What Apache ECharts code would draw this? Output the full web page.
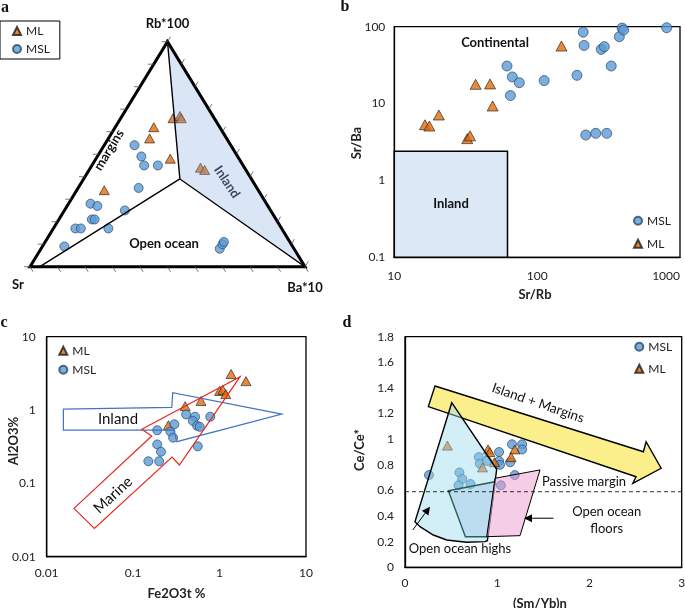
<!DOCTYPE html>
<html><head><meta charset="utf-8">
<script src="https://cdn.jsdelivr.net/npm/echarts@6/dist/echarts.min.js"></script>
<style>html,body{margin:0;padding:0;background:#fff}#c{width:685px;height:608px}</style>
</head><body><div id="c"></div>
<script>
// ---------- Panel a: ternary compositions (fractions of Sr, Rb*100, Ba*10)
const aML_Sr  = [0.15,0.12,0.12,0.24,0.28,0.25,0.16,0.15,0.56];
const aML_Rb  = [0.66,0.67,0.66,0.62,0.57,0.48,0.44,0.43,0.34];
const aML_Ba  = [0.19,0.21,0.22,0.14,0.15,0.27,0.40,0.42,0.10];
const aMSL_Sr = [0.35,0.35,0.36,0.31,0.43,0.64,0.62,0.67,0.66,0.53,0.75,0.73,0.63,0.83,0.27,0.25,0.24];
const aMSL_Rb = [0.54,0.49,0.45,0.45,0.35,0.28,0.27,0.21,0.21,0.25,0.17,0.17,0.17,0.09,0.08,0.10,0.11];
const aMSL_Ba = [0.11,0.16,0.19,0.24,0.22,0.08,0.11,0.12,0.13,0.22,0.08,0.10,0.20,0.08,0.65,0.65,0.65];
// field boundaries (Sr, Rb, Ba)
const aJunction = [0.26,0.39,0.35];
const aBasePoint = [0.964,0,0.036];
const aVertSr = [1,0,0], aVertRb = [0,1,0], aVertBa = [0,0,1];

// ---------- Panel b: Sr/Rb vs Sr/Ba
const bML_x  = [16.4,17.6,20.5,32.4,33.9,37.1,46.8,48.8,148];
const bML_y  = [5.3,5.1,7.1,3.5,3.8,17.8,18,9.3,56];
const bMSL_x = [61.5,67,75,65,112,190,210,213,219,257,307,281,295,330,376,393,403,807];
const bMSL_y = [30.8,22.2,18.7,12.7,19.9,23.3,85,57,3.9,4.1,4.1,50.7,55,30.8,74,96,90.5,97];
const bInland = [[10,0.1],[62,0.1],[62,2.4],[10,2.4]];

// ---------- Panel c: Fe2O3t vs Al2O3
const cML_x  = [1.36,2.02,1.0,1.09,1.18,0.61,0.40,0.256];
const cML_y  = [3.1,2.48,1.82,1.88,1.65,1.33,1.13,0.62];
const cMSL_x = [0.78,0.41,0.52,0.49,0.55,0.59,0.30,0.19,0.27,0.29,0.19,0.56,0.21,0.15,0.20];
const cMSL_y = [0.81,0.87,0.81,0.71,0.61,0.59,0.64,0.53,0.51,0.42,0.34,0.32,0.27,0.20,0.20];
const cInland = [[0.0156,1.03],[0.280,1.09],[0.287,1.72],[5.25,0.88],[0.32,0.37],[0.297,0.533],[0.0156,0.533]];
const cMarine = [[0.0207,0.0456],[0.164,0.442],[0.126,0.546],[1.73,2.85],[0.343,0.178],[0.282,0.229],[0.0356,0.0243]];

// ---------- Panel d: (Sm/Yb)n vs Ce/Ce*
const dMSL_x = [0.26,0.59,0.62,0.58,0.71,0.80,0.81,0.89,1.02,1.02,1.03,1.16,1.27,1.27,1.14,1.19,1.04];
const dMSL_y = [0.72,0.74,0.69,0.64,0.65,0.86,0.81,0.83,0.90,0.83,0.80,0.96,0.96,0.92,0.82,0.72,0.64];
const dML_x  = [0.46,0.90,0.92,0.84,0.97,1.19,1.15];
const dML_y  = [0.95,0.92,0.90,0.78,0.82,0.92,0.86];
const dIslandArrow = [[0.325,1.415],[2.585,0.902],[2.614,0.980],[2.777,0.773],[2.470,0.656],[2.505,0.707],[0.253,1.254]];
const dHighs = [[0.507,1.285],[0.994,0.765],[0.893,0.208],[0.868,0.200],[0.669,0.195],[0.452,0.213],[0.307,0.252],[0.163,0.317],[0.108,0.356]];
const dTeal = [[0.470,0.598],[0.976,0.668],[0.893,0.239],[0.655,0.239]];
const dPink = [[0.976,0.695],[1.464,0.760],[1.247,0.247],[0.886,0.239]];
const dCeLimit = 0.59;
const dHighsArrow = [[0.084,0.291],[0.271,0.473]];
const dFloorsArrow = [[1.61,0.383],[1.29,0.383]];

// ---------- helpers
const FONT = 'Lato, "Open Sans", sans-serif';
const ML_STYLE = {color:'#E46C0A', borderColor:'#1a1a1a', borderWidth:0.8};
const MSL_STYLE = {color:'#5B9BD5', borderColor:'#2c4a6b', borderWidth:0.9};
const zip = (xs, ys) => xs.map((x,i)=>[x, ys[i]]);
function tern(sr, rb, ba){ const s = sr+rb+ba; return [(ba + rb/2)/s, rb/s]; }
const ternArr = (S,R,B) => S.map((s,i)=>tern(s,R[i],B[i]));

function poly(grid, pts, style, z, closed=true){
  return {type:'custom', xAxisIndex:grid, yAxisIndex:grid, z:z, silent:true,
    data:[[pts[0][0], pts[0][1]]],
    renderItem:(p, api)=>({type: closed?'polygon':'polyline', shape:{points: pts.map(q=>api.coord(q))}, style: style})};
}
function arrowSeries(grid, seg, z){
  return {type:'custom', xAxisIndex:grid, yAxisIndex:grid, z:z, silent:true, data:[[seg[1][0], seg[1][1]]],
    renderItem:(p, api)=>{
      const p0 = api.coord(seg[0]), p1 = api.coord(seg[1]);
      const dx=p1[0]-p0[0], dy=p1[1]-p0[1], L=Math.hypot(dx,dy), ux=dx/L, uy=dy/L;
      const hl=8, hw=4, bx=p1[0]-ux*hl, by=p1[1]-uy*hl;
      return {type:'group', children:[
        {type:'line', shape:{x1:p0[0],y1:p0[1],x2:bx,y2:by}, style:{stroke:'#000', lineWidth:1}},
        {type:'polygon', shape:{points:[p1,[bx-uy*hw,by+ux*hw],[bx+uy*hw,by-ux*hw]]}, style:{fill:'#000'}}
      ]};
    }};
}

const axisCommon = {
  axisLine:{show:true, onZero:false, lineStyle:{color:'#000', width:1.3}},
  axisTick:{show:false}, splitLine:{show:false}
};
const lbl = (margin, extra) => Object.assign({color:'#222', fontSize:12, fontFamily:FONT, margin:margin,
  formatter: v => String(Math.round(v*1000)/1000)}, extra||{});

// ternary ticks (structural, every 10 %)
const ternTicks = {type:'custom', xAxisIndex:0, yAxisIndex:0, z:6, silent:true, data:[[0,0]],
  renderItem:(p, api)=>{
    const A = api.coord(tern(...aVertSr)), B = api.coord(tern(...aVertBa)), T = api.coord(tern(...aVertRb));
    const norm = v => { const l=Math.hypot(v[0],v[1]); return [v[0]/l, v[1]/l]; };
    const dLeft = [-1,0], dBase = norm([B[0]-T[0], B[1]-T[1]]), dRight = norm([T[0]-A[0], T[1]-A[1]]);
    const len = 6, ch = [];
    for (let k=0;k<=10;k++){
      const t = k/10;
      const pl = [A[0]+(T[0]-A[0])*t, A[1]+(T[1]-A[1])*t];
      const pb = [A[0]+(B[0]-A[0])*t, A[1]+(B[1]-A[1])*t];
      const pr = [B[0]+(T[0]-B[0])*t, B[1]+(T[1]-B[1])*t];
      [[pl,dLeft],[pb,dBase],[pr,dRight]].forEach(([q,d])=>ch.push({type:'line',
        shape:{x1:q[0],y1:q[1],x2:q[0]+d[0]*len,y2:q[1]+d[1]*len}, style:{stroke:'#555', lineWidth:0.8}}));
    }
    return {type:'group', children:ch};
  }};

const txt = (x, y, text, opts={}) => ({type:'text', x:x, y:y, rotation:(opts.rot||0)*Math.PI/180, z:100,
  style:{text:text, fill:opts.color||'#111', font:(opts.weight||'normal')+' '+(opts.size||13)+'px '+(opts.family||FONT),
    align:opts.align||'center', verticalAlign:'middle', textAlign:opts.align||'center', textVerticalAlign:'middle'}});
const serif = '"Liberation Serif", "DejaVu Serif", serif';

const option = {
  animation:false,
  backgroundColor:'#fff',
  grid:[
    {left:30, top:41.7, width:275, height:225, show:false, outerBoundsMode:'none'},
    {left:394.3, top:26.7, width:285.7, height:230.6, show:true, borderColor:'#000', borderWidth:1.3, outerBoundsMode:'none'},
    {left:46.7, top:336.7, width:259.3, height:220, show:true, borderColor:'#000', borderWidth:1.3, outerBoundsMode:'none'},
    {left:405, top:336.7, width:276.7, height:230.6, show:true, borderColor:'#000', borderWidth:1.3, outerBoundsMode:'none'}
  ],
  xAxis:[
    {gridIndex:0, type:'value', min:0, max:1, show:false},
    Object.assign({gridIndex:1, type:'log', logBase:10, min:10, max:1000,
      axisLabel:lbl(13,{alignMaxLabel:'right'})}, axisCommon),
    Object.assign({gridIndex:2, type:'log', logBase:10, min:0.01, max:10,
      axisLabel:lbl(10)}, axisCommon),
    Object.assign({gridIndex:3, type:'value', min:0, max:3, interval:1,
      axisLabel:lbl(10)}, axisCommon)
  ],
  yAxis:[
    {gridIndex:0, type:'value', min:0, max:1, show:false},
    Object.assign({gridIndex:1, type:'log', logBase:10, min:0.1, max:100,
      axisLabel:lbl(9)}, axisCommon),
    Object.assign({gridIndex:2, type:'log', logBase:10, min:0.01, max:10,
      axisLabel:lbl(11)}, axisCommon),
    Object.assign({gridIndex:3, type:'value', min:0, max:1.8, interval:0.2,
      axisLabel:lbl(11)}, axisCommon)
  ],
  legend:[
    {left:0, top:21, orient:'vertical', data:['ML','MSL'], borderColor:'#000', borderWidth:1,
      padding:[4,10,4,12], itemWidth:8, itemHeight:8, itemGap:6,
      textStyle:{fontSize:12, color:'#222', fontFamily:FONT}},
    {left:633, top:214.7, orient:'vertical', data:['MSL','ML'], padding:0, itemWidth:8, itemHeight:8, itemGap:11,
      textStyle:{fontSize:12, color:'#222', fontFamily:FONT}},
    {left:58.3, top:344.7, orient:'vertical', data:['ML','MSL'], padding:0, itemWidth:8, itemHeight:8, itemGap:7,
      textStyle:{fontSize:12, color:'#222', fontFamily:FONT}},
    {left:634.3, top:340.7, orient:'vertical', data:['MSL','ML'], padding:0, itemWidth:8, itemHeight:8, itemGap:10,
      textStyle:{fontSize:12, color:'#222', fontFamily:FONT}}
  ],
  series:[
    // ---- a
    {name:'ML', type:'scatter', xAxisIndex:0, yAxisIndex:0, z:2, symbol:'triangle', symbolSize:[10,9],
      itemStyle:ML_STYLE, data:ternArr(aML_Sr,aML_Rb,aML_Ba)},
    {name:'MSL', type:'scatter', xAxisIndex:0, yAxisIndex:0, z:2, symbol:'circle', symbolSize:9,
      itemStyle:MSL_STYLE, data:ternArr(aMSL_Sr,aMSL_Rb,aMSL_Ba)},
    poly(0, [tern(...aVertRb), tern(...aJunction), tern(...aVertBa)], {fill:'rgba(132,172,222,0.3)', stroke:'#000', lineWidth:1.4}, 3),
    poly(0, [tern(...aBasePoint), tern(...aJunction)], {fill:null, stroke:'#000', lineWidth:1.4}, 4, false),
    poly(0, [tern(...aVertSr), tern(...aVertRb), tern(...aVertBa)], {fill:null, stroke:'#000', lineWidth:3, lineJoin:'miter'}, 5),
    ternTicks,
    // ---- b
    poly(1, bInland, {fill:'#DCE8F6', stroke:'#000', lineWidth:1.5}, 1),
    {name:'MSL', type:'scatter', xAxisIndex:1, yAxisIndex:1, z:2, symbol:'circle', symbolSize:10,
      itemStyle:MSL_STYLE, data:zip(bMSL_x,bMSL_y)},
    {name:'ML', type:'scatter', xAxisIndex:1, yAxisIndex:1, z:2, symbol:'triangle', symbolSize:[11,10],
      itemStyle:ML_STYLE, data:zip(bML_x,bML_y)},
    // ---- c
    {name:'ML', type:'scatter', xAxisIndex:2, yAxisIndex:2, z:2, symbol:'triangle', symbolSize:[10,9],
      itemStyle:ML_STYLE, data:zip(cML_x,cML_y)},
    {name:'MSL', type:'scatter', xAxisIndex:2, yAxisIndex:2, z:2, symbol:'circle', symbolSize:9,
      itemStyle:MSL_STYLE, data:zip(cMSL_x,cMSL_y)},
    poly(2, cInland, {fill:null, stroke:'#4472C4', lineWidth:1.2}, 4),
    poly(2, cMarine, {fill:null, stroke:'#E8281E', lineWidth:1.2}, 4),
    // ---- d
    poly(3, dIslandArrow, {fill:'#FBEF8C', stroke:'#000', lineWidth:1.4}, 1),
    {name:'MSL', type:'scatter', xAxisIndex:3, yAxisIndex:3, z:2, symbol:'circle', symbolSize:9,
      itemStyle:MSL_STYLE, data:zip(dMSL_x,dMSL_y)},
    {name:'ML', type:'scatter', xAxisIndex:3, yAxisIndex:3, z:2, symbol:'triangle', symbolSize:[10,9],
      itemStyle:ML_STYLE, data:zip(dML_x,dML_y)},
    poly(3, dHighs, {fill:'rgba(155,217,237,0.45)', stroke:'#000', lineWidth:1.4}, 3),
    poly(3, dTeal, {fill:'rgba(150,190,225,0.35)', stroke:'#2E5E55', lineWidth:1.4}, 4),
    poly(3, dPink, {fill:'rgba(235,155,205,0.5)', stroke:'#000', lineWidth:1}, 4),
    poly(3, [[0,dCeLimit],[3,dCeLimit]], {fill:null, stroke:'#000', lineWidth:0.8, lineDash:[4,3]}, 5, false),
    arrowSeries(3, dHighsArrow, 6),
    arrowSeries(3, dFloorsArrow, 6)
  ],
  graphic:[
    txt(5, 8, 'a', {weight:'bold', size:16, family:serif}),
    txt(345, 7, 'b', {weight:'bold', size:16, family:serif}),
    txt(4, 323, 'c', {weight:'bold', size:16, family:serif}),
    txt(347, 323, 'd', {weight:'bold', size:16, family:serif}),
    // axis titles
    txt(356.5, 143, 'Sr/Ba', {weight:'bold', size:13, rot:90, color:'#222'}),
    txt(535, 295, 'Sr/Rb', {weight:'bold', size:13, color:'#222'}),
    txt(13.5, 441, 'Al2O3%', {weight:'bold', size:13, rot:90, color:'#222'}),
    txt(176.5, 594, 'Fe2O3t %', {weight:'bold', size:13, color:'#222'}),
    txt(360, 450, 'Ce/Ce*', {weight:'bold', size:13, rot:90, color:'#222'}),
    txt(540, 603.5, '(Sm/Yb)n', {weight:'bold', size:13, color:'#222'}),
    // a
    txt(167.5, 24, 'Rb*100', {weight:'bold', size:13}),
    txt(18, 285, 'Sr', {weight:'bold', size:13}),
    txt(305, 288, 'Ba*10', {weight:'bold', size:13}),
    txt(109, 150, 'margins', {weight:'bold', size:13, rot:58.6}),
    txt(227, 182, 'Inland', {weight:'bold', size:13, rot:-56, color:'#3B4A63'}),
    txt(164, 244, 'Open ocean', {weight:'bold', size:13}),
    // b
    txt(495, 43, 'Continental', {weight:'bold', size:13}),
    txt(451, 204, 'Inland', {weight:'bold', size:13}),
    // c
    txt(118, 419, 'Inland', {size:15}),
    txt(113, 495, 'Marine', {size:15, rot:42.6}),
    // d
    txt(538, 403, 'Island + Margins', {size:13.5, rot:-19}),
    txt(584, 481.7, 'Passive margin', {size:13}),
    txt(606.7, 511.5, 'Open ocean', {size:13}),
    txt(606.7, 528.5, 'floors', {size:13}),
    txt(460, 549.3, 'Open ocean highs', {size:13})
  ]
};
const chart = echarts.init(document.getElementById('c'), null, {renderer:'canvas'});
chart.setOption(option);
</script>
</body></html>
